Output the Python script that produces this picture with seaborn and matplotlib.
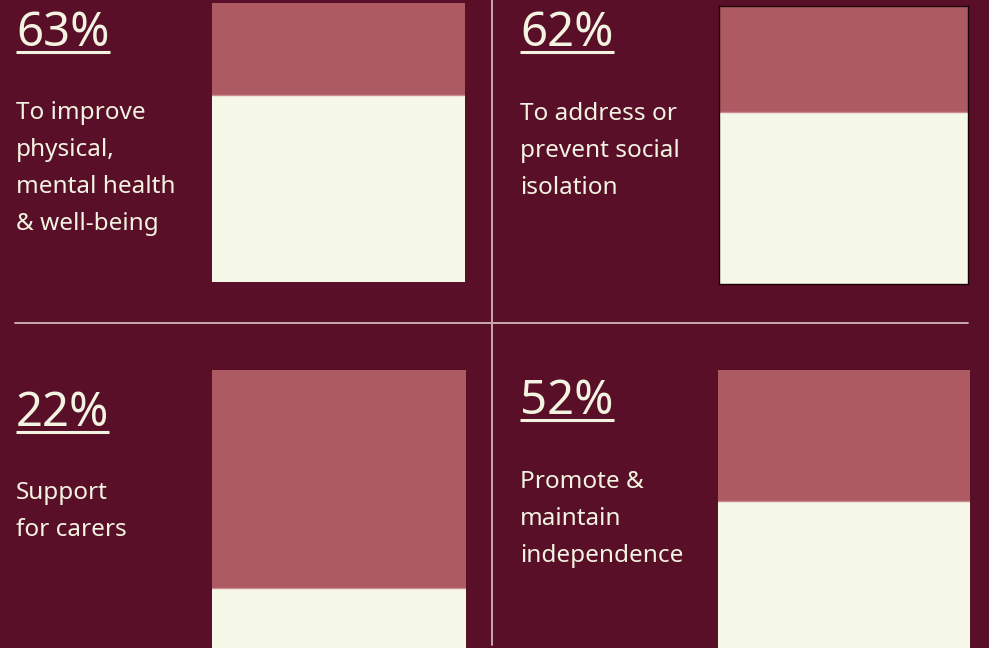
import matplotlib
matplotlib.use("Agg")
import matplotlib.pyplot as plt
import seaborn as sns
import pandas as pd
from matplotlib.lines import Line2D

# Data
labels = ["63%", "62%", "22%", "52%"]
fill_values = [67, 62, 22, 53]   # cream share of each box, as drawn
descriptions = [
    ["To improve", "physical,", "mental health", "& well-being"],
    ["To address or", "prevent social", "isolation"],
    ["Support", "for carers"],
    ["Promote &", "maintain", "independence"],
]

bg = "#5a0f28"
pink = "#ad5a63"
cream = "#f5f8e6"
text_col = "#f3f3e2"
line_col = "#c8a9ae"

sns.set_style("white")
plt.rcParams["font.family"] = ["Noto Sans", "DejaVu Sans"]

W, H = 989, 648
fig = plt.figure(figsize=(W / 100, H / 100), dpi=100, facecolor=bg)

def fx(px):
    return px / W

def fy(py):
    return 1 - py / H

# bar boxes in pixel coords: left, top, right, bottom
boxes = [(212, 3, 465, 282), (719, 6, 968, 284), (212, 370, 466, 649), (718, 370, 970, 649)]
# percent label positions (left x, baseline y) and first description line centre
label_pos = [(16, 46), (520, 46), (16, 426), (520, 414)]
desc_start = [113, 114, 493, 482]
line_step = 37

for i, (l, t, r, b) in enumerate(boxes):
    ax = fig.add_axes([fx(l), fy(b), fx(r - l), (b - t) / H])
    ax.set_facecolor(bg)
    df = pd.DataFrame({"cat": ["a"], "full": [100], "val": [fill_values[i]]})
    sns.barplot(data=df, x="cat", y="full", color=pink, width=1, saturation=1,
                ax=ax, linewidth=0)
    sns.barplot(data=df, x="cat", y="val", color=cream, width=1, saturation=1,
                ax=ax, linewidth=0)
    ax.axhline(fill_values[i], color="#c98a90", lw=1)
    ax.set_xlim(-0.5, 0.5)
    ax.set_ylim(0, 100)
    ax.set_xticks([])
    ax.set_yticks([])
    ax.set_xlabel("")
    ax.set_ylabel("")
    for s in ax.spines.values():
        s.set_visible(i == 1)
        s.set_color("#1a0008")
        s.set_linewidth(1)

fig.canvas.draw()
renderer = fig.canvas.get_renderer()

for i in range(4):
    x0, yb = label_pos[i]
    txt = fig.text(fx(x0), fy(yb), labels[i], color=text_col, fontsize=34,
                   ha="left", va="baseline")
    bb = txt.get_window_extent(renderer)
    fig.add_artist(Line2D([fx(x0), bb.x1 / W], [fy(yb + 5.5)] * 2,
                          color=text_col, lw=2.2, solid_capstyle="butt"))
    for j, line in enumerate(descriptions[i]):
        fig.text(fx(x0), fy(desc_start[i] + j * line_step), line,
                 color=text_col, fontsize=17.5, ha="left", va="center")

# divider lines
fig.add_artist(Line2D([fx(492), fx(492)], [fy(0), fy(645)], color=line_col, lw=1.4))
fig.add_artist(Line2D([fx(15), fx(968)], [fy(323), fy(323)], color=line_col, lw=1.4))

fig.savefig("out.png", dpi=100, facecolor=bg)
